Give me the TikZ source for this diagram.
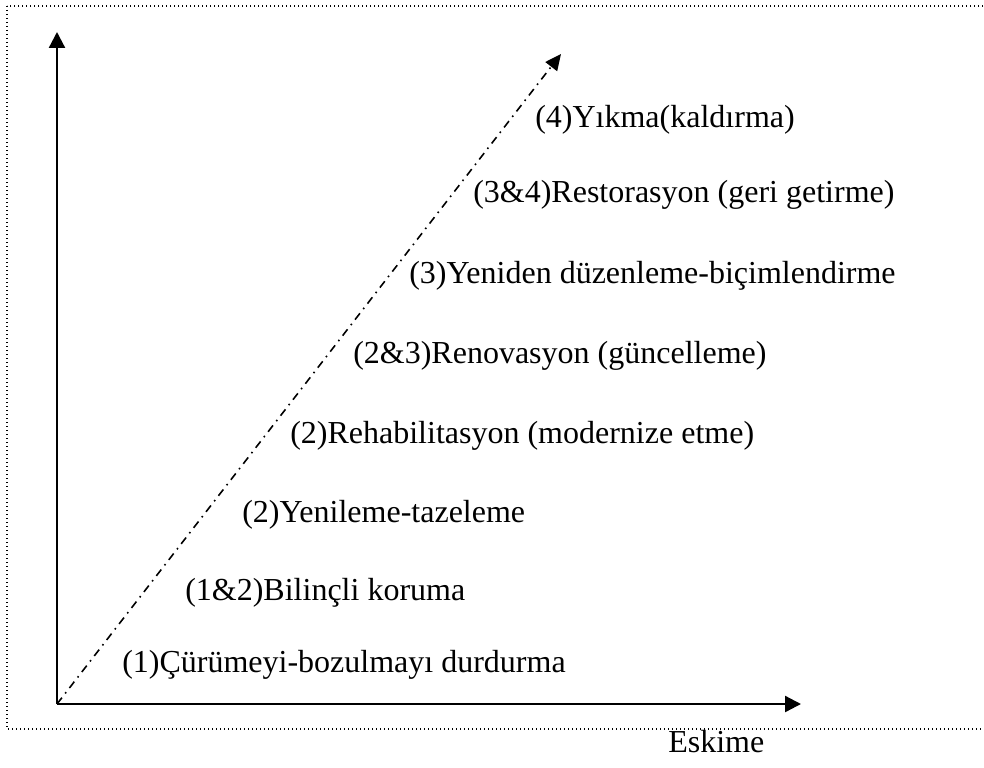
\documentclass[tikz,border=0pt]{standalone}
\usepackage{fontspec}
\setmainfont{Liberation Serif}
\usetikzlibrary{arrows.meta}
\tikzset{
  axis/.style={line width=1.7pt, -{Triangle[length=12pt,width=12pt]}},
  diag/.style={line width=1.2pt, dash pattern=on 6pt off 4pt on 1.2pt off 4pt, -{Triangle[length=12pt,width=11pt]}},
  lbl/.style={anchor=base west, inner sep=0pt, font=\fontsize{24}{28}\selectfont},
  frame/.style={line width=1pt, dotted}
}
\begin{document}
\begin{tikzpicture}[x=0.75pt,y=-0.75pt]
\useasboundingbox (0,0) rectangle (984,767);
\draw[frame] (7,6) rectangle (1000,729);
\coordinate (O) at (57,704);
\coordinate (Y) at (57,32);
\coordinate (X) at (801,704);
\coordinate (D) at (561,54);
\draw[axis] (O) -- (Y);
\draw[axis] (O) -- (X);
\draw[diag] (O) -- (D);
\node[lbl] (l4) at (535,127) {(4)Yıkma(kaldırma)};
\node[lbl] (l34) at (473,202) {(3\&4)Restorasyon (geri getirme)};
\node[lbl] (l3) at (409,283) {(3)Yeniden düzenleme-biçimlendirme};
\node[lbl] (l23) at (353,363) {(2\&3)Renovasyon (güncelleme)};
\node[lbl] (l2b) at (290,443) {(2)Rehabilitasyon (modernize etme)};
\node[lbl] (l2a) at (242,522) {(2)Yenileme-tazeleme};
\node[lbl] (l12) at (185,600) {(1\&2)Bilinçli koruma};
\node[lbl] (l1) at (122,672) {(1)Çürümeyi-bozulmayı durdurma};
\node[lbl] (esk) at (668,752) {Eskime};
\end{tikzpicture}
\end{document}
